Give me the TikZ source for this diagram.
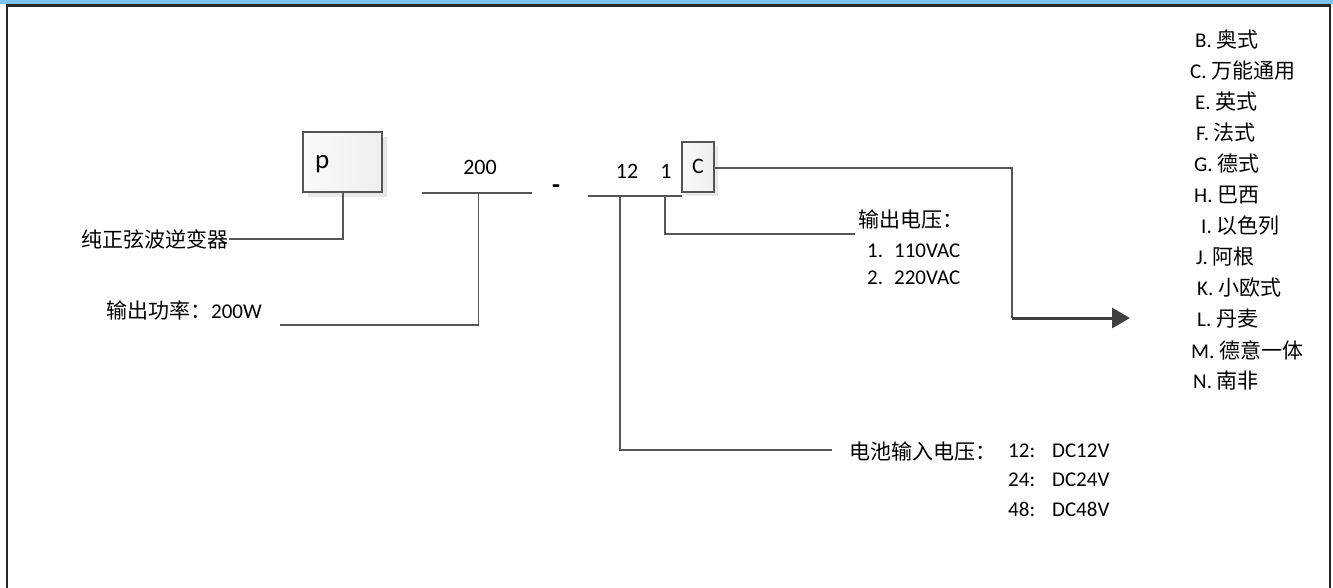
\documentclass[tikz,border=0pt]{standalone}
\usepackage{fontspec}
\setmainfont{Carlito}
\newfontfamily\cjk{Noto Sans CJK SC}
\usetikzlibrary{arrows.meta}
\definecolor{barblue}{HTML}{7CC3EE}
\definecolor{linegray}{HTML}{555555}
\definecolor{arrowgray}{HTML}{404040}
\tikzset{
  txt/.style={inner sep=0pt, font=\fontsize{21}{25}\selectfont},
  conn/.style={draw=linegray, line width=1.1pt},
  codebox/.style={draw=linegray, line width=1.1pt, left color=gray!4, right color=gray!13, inner sep=0pt},
  shadowbox/.style={fill=gray!18, draw=none},
  bigarrow/.style={draw=arrowgray, line width=3pt, -{Triangle[length=18pt,width=20pt]}},
}
\begin{document}
\begin{tikzpicture}[x=1pt,y=-1pt]
\useasboundingbox (0,0) rectangle (1333,587);
\fill[barblue] (0,0) rectangle (1333,3.5);
\draw[black!85, line width=2.2pt] (7,590) -- (7,5.5) -- (1330,5.5) -- (1330,590);

% p box
\fill[shadowbox] (308,137) rectangle (387,197);
\node[codebox, minimum width=79pt, minimum height=60pt] (pbox) at (342.5,162) {};
\node[txt, anchor=west, font=\fontsize{27}{30}\selectfont] (ptxt) at (315,164) {p};

% C box
\fill[shadowbox] (686,146) rectangle (718,196);
\node[codebox, minimum width=32pt, minimum height=50pt] (cbox) at (698,167) {};
\node[txt, font=\fontsize{22}{26}\selectfont] (ctxt) at (698,166) {C};

% code characters
\node[txt, font=\fontsize{22}{26}\selectfont] (t200) at (480,167) {200};
\node[txt, font=\fontsize{26}{30}\selectfont\bfseries] (dash) at (556,189) {-};
\node[txt, font=\fontsize{22}{26}\selectfont] (t12) at (627,171) {12};
\node[txt, font=\fontsize{22}{26}\selectfont] (t1) at (666,171) {1};

% underlines
\coordinate (u200a) at (422,193);
\coordinate (u200b) at (532,193);
\coordinate (u12a) at (588,196);
\coordinate (u12b) at (682,196);
\draw[conn] (u200a) -- (u200b);
\draw[conn] (u12a) -- (u12b);

% labels
\node[txt, anchor=east] (lp) at (229,239) {\cjk 纯正弦波逆变器};
\node[txt, anchor=west] (l200) at (106,310) {{\cjk 输出功率：}200W};
\node[txt, anchor=west] (lvout) at (858,219) {\cjk 输出电压：};
\node[txt, anchor=west] (lv1) at (867,251) {1.\hspace{11pt}110VAC};
\node[txt, anchor=west] (lv2) at (867,278) {2.\hspace{11pt}220VAC};
\node[txt, anchor=west] (lbat) at (849,451) {\cjk 电池输入电压：};
\node[txt, anchor=west] (lb1) at (1008,451) {12:\hspace{17pt}DC12V};
\node[txt, anchor=west] (lb2) at (1008,480) {24:\hspace{17pt}DC24V};
\node[txt, anchor=west] (lb3) at (1008,509) {48:\hspace{17pt}DC48V};

% connectors
\draw[conn] (343,192) |- (lp.east);
\coordinate (c200) at (478.6,193);
\draw[conn] (c200) |- (280,325) coordinate (e200);
\coordinate (c12) at (620,196);
\draw[conn] (c12) |- (832,450) coordinate (e12);
\coordinate (c1) at (665,196);
\draw[conn] (c1) |- (855,234) coordinate (e1);
\coordinate (bend) at (1012,318);
\draw[conn] (cbox.east |- 0,168) -| (bend);
\coordinate (tip) at (1130,318);
\draw[bigarrow] (bend) -- (tip);

% plug list
\node[txt, anchor=west] (pB) at (1195,40) {B. {\cjk 奥式}};
\node[txt, anchor=west] (pC) at (1190,71) {C. {\cjk 万能通用}};
\node[txt, anchor=west] (pE) at (1195,102) {E. {\cjk 英式}};
\node[txt, anchor=west] (pF) at (1196,133) {F. {\cjk 法式}};
\node[txt, anchor=west] (pG) at (1194,164) {G. {\cjk 德式}};
\node[txt, anchor=west] (pH) at (1194,195) {H. {\cjk 巴西}};
\node[txt, anchor=west] (pI) at (1201,226) {I. {\cjk 以色列}};
\node[txt, anchor=west] (pJ) at (1196,257) {J. {\cjk 阿根}};
\node[txt, anchor=west] (pK) at (1197,288) {K. {\cjk 小欧式}};
\node[txt, anchor=west] (pL) at (1197,319) {L. {\cjk 丹麦}};
\node[txt, anchor=west] (pM) at (1191,350) {M. {\cjk 德意一体}};
\node[txt, anchor=west] (pN) at (1193,381) {N. {\cjk 南非}};
\end{tikzpicture}
\end{document}
